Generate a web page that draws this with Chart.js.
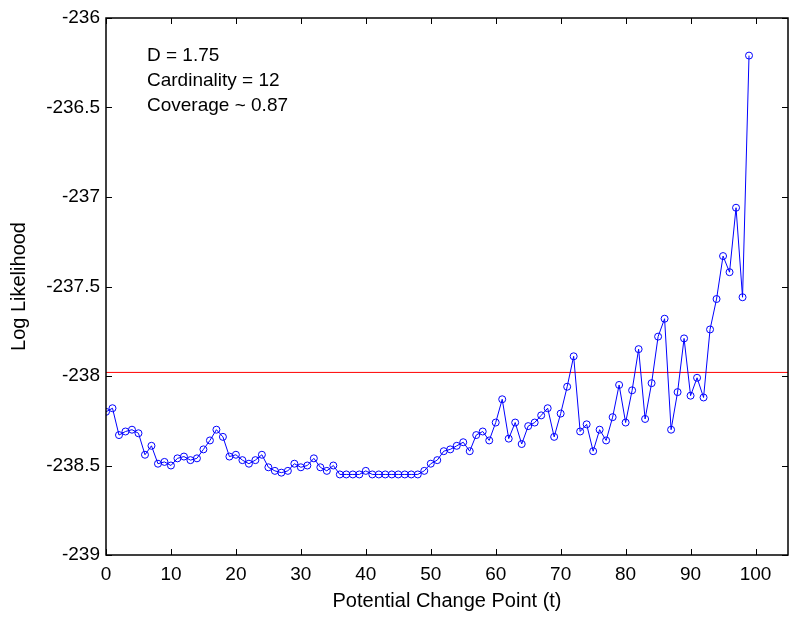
<!DOCTYPE html>
<html>
<head>
<meta charset="utf-8">
<title>Log Likelihood vs Change Point</title>
<script src="https://cdn.jsdelivr.net/npm/chart.js@4/dist/chart.umd.min.js"></script>
<style>
  html, body { margin: 0; padding: 0; background: #fff; }
  #wrap { width: 793px; height: 618px; }
</style>
</head>
<body>
<div id="wrap"><canvas id="llChart" width="793" height="618"></canvas></div>
<script>
// Log likelihood for each candidate change point t = 0..99
const changePoints = Array.from({ length: 100 }, (_, i) => i);
const logLik = [
  -238.20, -238.18, -238.33, -238.31, -238.30, -238.32, -238.44, -238.39, -238.49, -238.48,
  -238.50, -238.46, -238.45, -238.47, -238.46, -238.41, -238.36, -238.30, -238.34, -238.45,
  -238.44, -238.47, -238.49, -238.47, -238.44, -238.51, -238.53, -238.54, -238.53, -238.49,
  -238.51, -238.50, -238.46, -238.51, -238.53, -238.50, -238.55, -238.55, -238.55, -238.55,
  -238.53, -238.55, -238.55, -238.55, -238.55, -238.55, -238.55, -238.55, -238.55, -238.53,
  -238.49, -238.47, -238.42, -238.41, -238.39, -238.37, -238.42, -238.33, -238.31, -238.36,
  -238.26, -238.13, -238.35, -238.26, -238.38, -238.28, -238.26, -238.22, -238.18, -238.34,
  -238.21, -238.06, -237.89, -238.31, -238.27, -238.42, -238.30, -238.36, -238.23, -238.05,
  -238.26, -238.08, -237.85, -238.24, -238.04, -237.78, -237.68, -238.30, -238.09, -237.79,
  -238.11, -238.01, -238.12, -237.74, -237.57, -237.33, -237.42, -237.06, -237.56, -236.21
];
const threshold = -237.98;
const xRange = [0, 105];
const yRange = [-239, -236];
const infoLines = ['D = 1.75', 'Cardinality = 12', 'Coverage ~ 0.87'];

const FONT = '"Liberation Sans", Arial, sans-serif';

// MATLAB-style box with inward tick marks and the text block
const boxPlugin = {
  id: 'boxTicks',
  afterDraw(chart) {
    const { ctx, chartArea: a, scales } = chart;
    const len = 6;
    ctx.save();
    ctx.strokeStyle = '#000';
    ctx.lineWidth = 1;
    ctx.beginPath();
    scales.x.ticks.forEach((t) => {
      const px = Math.round(scales.x.getPixelForValue(t.value)) + 0.5;
      ctx.moveTo(px, a.bottom); ctx.lineTo(px, a.bottom - len);
      ctx.moveTo(px, a.top); ctx.lineTo(px, a.top + len);
    });
    scales.y.ticks.forEach((t) => {
      const py = Math.round(scales.y.getPixelForValue(t.value)) + 0.5;
      ctx.moveTo(a.left, py); ctx.lineTo(a.left + len, py);
      ctx.moveTo(a.right, py); ctx.lineTo(a.right - len, py);
    });
    ctx.stroke();
    ctx.lineWidth = 1.5;
    ctx.strokeRect(a.left, a.top, a.right - a.left, a.bottom - a.top);

    ctx.fillStyle = '#000';
    ctx.font = '19px ' + FONT;
    ctx.textBaseline = 'middle';
    infoLines.forEach((s, i) => ctx.fillText(s, a.left + 41, a.top + 38 + i * 25));
    ctx.restore();
  }
};

new Chart(document.getElementById('llChart'), {
  type: 'line',
  data: {
    datasets: [
      {
        label: 'Log likelihood',
        data: changePoints.map((t, i) => ({ x: t, y: logLik[i] })),
        borderColor: '#0000ff',
        borderWidth: 1,
        pointStyle: 'circle',
        pointRadius: 3.5,
        pointBorderColor: '#0000ff',
        pointBackgroundColor: 'rgba(0,0,0,0)',
        pointBorderWidth: 1,
        tension: 0,
        order: 1
      },
      {
        label: 'Threshold',
        data: xRange.map((x) => ({ x, y: threshold })),
        borderColor: '#ff0000',
        borderWidth: 1,
        pointRadius: 0,
        order: 2
      }
    ]
  },
  options: {
    responsive: false,
    animation: false,
    layout: { padding: { top: 18, right: 3, left: 0, bottom: 0 } },
    plugins: { legend: { display: false }, tooltip: { enabled: false } },
    scales: {
      x: {
        type: 'linear',
        min: xRange[0],
        max: xRange[1],
        grid: { display: false, drawTicks: false },
        border: { display: false },
        ticks: {
          stepSize: 10,
          includeBounds: false,
          padding: 8,
          color: '#000',
          font: { family: FONT, size: 19 }
        },
        title: {
          display: true,
          text: 'Potential Change Point (t)',
          color: '#000',
          font: { family: FONT, size: 20 },
          padding: { top: 0, bottom: 5 }
        },
        afterFit(scale) { scale.height = 63; }
      },
      y: {
        min: yRange[0],
        max: yRange[1],
        grid: { display: false, drawTicks: false },
        border: { display: false },
        ticks: {
          stepSize: 0.5,
          padding: 6,
          color: '#000',
          font: { family: FONT, size: 19 },
          callback: (v) => String(v)
        },
        title: {
          display: true,
          text: 'Log Likelihood',
          color: '#000',
          font: { family: FONT, size: 20 },
          padding: { top: 7, bottom: 0 }
        },
        afterFit(scale) { scale.width = 106; }
      }
    }
  },
  plugins: [boxPlugin]
});
</script>
</body>
</html>
